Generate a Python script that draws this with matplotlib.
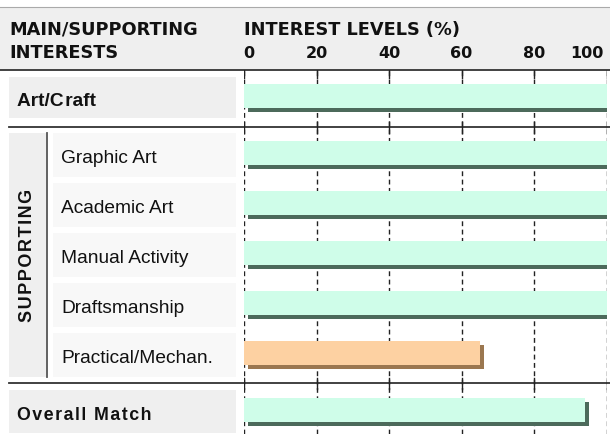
import matplotlib
matplotlib.use("Agg")
import matplotlib.pyplot as plt
from matplotlib.patches import Rectangle
from matplotlib.transforms import offset_copy

# interest profile
main_label = "Art/Craft"
main_value = 100
supporting_labels = ["Graphic Art", "Academic Art", "Manual Activity",
                     "Draftsmanship", "Practical/Mechan."]
supporting_values = [100, 100, 100, 100, 65]
overall_label = "Overall Match"
overall_value = 94
ticks = [0, 20, 40, 60, 80, 100]

GREEN, GREEN_SH = "#cffde9", "#4c6a5b"
ORANGE, ORANGE_SH = "#fdd1a2", "#9b7750"
PANEL = "#efefef"
SUBPANEL = "#f8f8f8"
LINE = "#333333"
HAIR = "\u200a"

W, H = 610, 434
fig = plt.figure(figsize=(W / 100, H / 100), dpi=100)

# background layer in pixel units (y grows downward)
lay = fig.add_axes([0, 0, 1, 1])
lay.set_xlim(0, W)
lay.set_ylim(H, 0)
lay.axis("off")

# header band
lay.add_patch(Rectangle((0, 7), W, 63, color=PANEL, lw=0))
lay.plot([0, W], [7, 7], color="#aaaaaa", lw=0.8)
lay.plot([0, W], [70, 70], color=LINE, lw=1.3)
hdr = dict(family="DejaVu Sans", weight="bold", fontsize=12.8, color="#111111")
lay.text(9, 35, "MAIN/SUPPORTING", va="baseline", **hdr)
lay.text(9, 58, "INTERESTS", va="baseline", **hdr)
lay.text(244, 35, "INTEREST LEVELS (%)", va="baseline", **hdr)

# rows
centers = [96, 153, 203, 253, 303, 353, 410]
values = [main_value] + supporting_values + [overall_value]
colors = [GREEN if v >= 80 else ORANGE for v in values]
shadows = [GREEN_SH if v >= 80 else ORANGE_SH for v in values]

# label panels
lay.add_patch(Rectangle((9, centers[0] - 19), 227, 41, color=PANEL, lw=0))
lay.text(17, centers[0] + 10, "Art/C" + HAIR + "raft", va="baseline",
         family=["Liberation Sans", "DejaVu Sans"], weight="bold",
         fontsize=13.8, color="#111111")
for c, lab in zip(centers[1:6], supporting_labels):
    lay.add_patch(Rectangle((53, c - 20), 183, 44, color=SUBPANEL, lw=0))
    lay.text(61, c + 10, lab, va="baseline", family="Liberation Sans",
             fontsize=13.8, color="#111111")
lay.add_patch(Rectangle((9, centers[1] - 20), 37, centers[5] - centers[1] + 44,
                        color=PANEL, lw=0))
lay.plot([47, 47], [centers[1] - 20, centers[5] + 24], color="#555555", lw=1.3)
lay.text(28, (centers[1] + centers[5]) / 2 + 2, HAIR.join("SUPPORTING"),
         rotation=90, ha="center", va="center",
         family=["Liberation Sans", "DejaVu Sans"], weight="bold",
         fontsize=13, color="#111111")
lay.add_patch(Rectangle((9, centers[6] - 20), 227, 43, color=PANEL, lw=0))
lay.text(17, centers[6] + 10, HAIR.join(overall_label), va="baseline",
         family=["Liberation Sans", "DejaVu Sans"], weight="bold",
         fontsize=12.8, color="#111111")

# separators
for y in (127, 383):
    lay.plot([9, W], [y, y], color=LINE, lw=1.3)

# bar axes
x0, x1 = 244, 606.7
ax = fig.add_axes([x0 / W, 0, (x1 - x0) / W, (H - 70) / H])
ax.patch.set_alpha(0)
ax.set_xlim(0, 100)
ax.set_ylim(H, 70)
ax.axis("off")

tick_font = dict(hdr, fontsize=11.5)
for t in ticks:
    ax.axvline(t, color="#222222", lw=1, ls=(0, (3.5, 2.5)), zorder=1)
    for y in (127, 383):
        ax.plot([t, t], [y - 5, y + 6], color="#222222", lw=1, zorder=1)
    ax.plot([t, t], [70, 78], color="#222222", lw=1, zorder=1)
    ha = "left" if t == 0 else ("right" if t == 100 else "center")
    xt = t - 0.3 if t == 0 else (t - 1 if t == 100 else t)
    ax.text(xt, 58, str(t), ha=ha, va="baseline", clip_on=False, **tick_font)

sh = offset_copy(ax.transData, fig=fig, x=4, y=-4, units="dots")
ax.barh(centers, values, height=24.5, color=shadows, transform=sh, zorder=2)
ax.barh(centers, values, height=24.5, color=colors, zorder=3)

fig.savefig("out.png", dpi=100)
